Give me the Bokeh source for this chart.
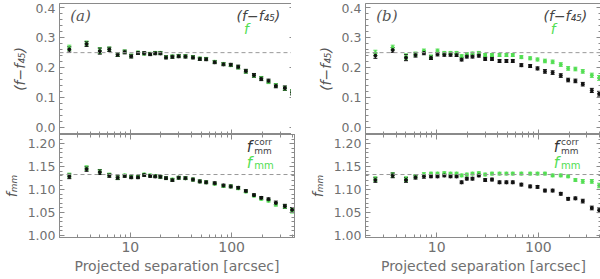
from bokeh.plotting import figure
from bokeh.layouts import gridplot
from bokeh.models import (Range1d, FixedTicker, Span, Label, Whisker, ColumnDataSource,
                          TeeHead, LinearAxis, LogAxis, NumeralTickFormatter)
from bokeh.embed import file_html
from bokeh.resources import INLINE

# ---------------- data ----------------
separation = [2.5, 3.7, 5.0, 6.2, 7.5, 8.8, 10.2, 11.9, 13.7, 15.7, 17.6, 19.8, 22.5, 26, 30,
              35, 41.5, 48.5, 56, 68, 83, 98, 116, 138, 166, 196, 231, 273, 335, 395]

a_frac_corr = [0.261, 0.279, 0.255, 0.261, 0.243, 0.252, 0.238, 0.249, 0.248, 0.245, 0.248, 0.248,
               0.234, 0.236, 0.238, 0.237, 0.234, 0.229, 0.228, 0.218, 0.211, 0.209, 0.202, 0.188,
               0.174, 0.162, 0.155, 0.138, 0.131, 0.116]
a_frac_raw = [0.266, 0.281, 0.257, 0.262, 0.243, 0.253, 0.239, 0.250, 0.247, 0.246, 0.249, 0.249,
              0.235, 0.237, 0.239, 0.238, 0.235, 0.230, 0.229, 0.219, 0.212, 0.208, 0.201, 0.187,
              0.173, 0.164, 0.152, 0.140, 0.130, 0.118]
a_fmm_corr = [1.129, 1.145, 1.138, 1.131, 1.126, 1.130, 1.127, 1.127, 1.132, 1.130, 1.129, 1.128,
              1.125, 1.121, 1.126, 1.125, 1.122, 1.118, 1.116, 1.114, 1.109, 1.107, 1.104, 1.097,
              1.088, 1.082, 1.079, 1.071, 1.064, 1.056]
a_fmm_raw = [1.131, 1.147, 1.139, 1.132, 1.126, 1.131, 1.128, 1.128, 1.133, 1.131, 1.130, 1.128,
             1.125, 1.122, 1.126, 1.125, 1.122, 1.118, 1.116, 1.113, 1.108, 1.107, 1.103, 1.096,
             1.087, 1.080, 1.076, 1.068, 1.063, 1.054]

b_frac_corr = [0.240, 0.259, 0.233, 0.242, 0.249, 0.233, 0.245, 0.243, 0.243, 0.242, 0.227, 0.237,
               0.237, 0.240, 0.229, 0.229, 0.222, 0.222, 0.222, 0.208, 0.205, 0.197, 0.187, 0.183,
               0.173, 0.158, 0.155, 0.144, 0.123, 0.112]
b_frac_raw = [0.249, 0.267, 0.236, 0.245, 0.256, 0.236, 0.256, 0.249, 0.249, 0.249, 0.238, 0.245,
              0.247, 0.249, 0.242, 0.242, 0.242, 0.242, 0.242, 0.235, 0.231, 0.227, 0.222, 0.219,
              0.210, 0.197, 0.195, 0.187, 0.174, 0.165]
b_fmm_corr = [1.121, 1.131, 1.121, 1.127, 1.129, 1.129, 1.129, 1.131, 1.129, 1.129, 1.116, 1.124,
              1.124, 1.131, 1.121, 1.122, 1.116, 1.116, 1.116, 1.111, 1.107, 1.106, 1.098, 1.098,
              1.091, 1.080, 1.081, 1.075, 1.060, 1.055]
b_fmm_raw = [1.123, 1.132, 1.123, 1.129, 1.133, 1.135, 1.135, 1.136, 1.135, 1.135, 1.131, 1.133,
             1.135, 1.136, 1.133, 1.135, 1.135, 1.135, 1.135, 1.135, 1.135, 1.135, 1.135, 1.131,
             1.131, 1.129, 1.121, 1.118, 1.118, 1.109]

frac_err = [0.009, 0.008, 0.010, 0.007, 0.006, 0.006, 0.006, 0.005, 0.005, 0.005, 0.005, 0.005,
            0.005, 0.005, 0.005, 0.005, 0.005, 0.005, 0.005, 0.005, 0.005, 0.005, 0.006, 0.006,
            0.006, 0.006, 0.006, 0.006, 0.007, 0.008]
fmm_err = [0.005, 0.005, 0.005, 0.004, 0.004, 0.003, 0.003, 0.003, 0.003, 0.003, 0.003, 0.003,
           0.003, 0.003, 0.003, 0.003, 0.003, 0.003, 0.003, 0.003, 0.003, 0.003, 0.003, 0.003,
           0.003, 0.003, 0.003, 0.004, 0.004, 0.005]

frac_ref = 0.25
fmm_ref = 1.133

frac_ticks = [0.0, 0.1, 0.2, 0.3, 0.4]
frac_minor = [round(i * 0.02, 2) for i in range(0, 21)]
fmm_ticks = [1.00, 1.05, 1.10, 1.15, 1.20]
fmm_minor = [round(1.0 + i * 0.01, 2) for i in range(0, 23)]
x_ticks = [10, 100]
x_minor = [2, 3, 4, 5, 6, 7, 8, 9, 20, 30, 40, 50, 60, 70, 80, 90, 200, 300, 400]

BLACK = "#111111"
GREEN = "#52de52"
AXC = "#8a8a8a"
TXT = "#707070"
FONT = "DejaVu Sans"


def style_axis(ax, ticker, show_labels, fmt=None, size="12.5px"):
    ax.ticker = ticker
    ax.axis_line_color = AXC
    ax.major_tick_line_color = AXC
    ax.minor_tick_line_color = AXC
    ax.major_tick_in = 5
    ax.major_tick_out = 0
    ax.minor_tick_in = 3
    ax.minor_tick_out = 0
    ax.major_label_text_color = TXT
    ax.major_label_text_font = FONT
    if show_labels:
        ax.major_label_text_font_size = size
        ax.major_label_standoff = 4
    else:
        ax.major_label_text_font_size = "1px"
        ax.major_label_text_alpha = 0
        ax.major_label_standoff = 0
    if fmt is not None:
        ax.formatter = fmt


def panel(y, yerr, y2, yerr2, yr, ticks, minor, fmt, ref, top, left_col, ylabel, tag=None):
    p = figure(x_axis_type="log", x_range=Range1d(2.0, 417), y_range=Range1d(*yr),
               frame_width=235 if left_col else 236, frame_height=131 if top else 103,
               output_backend="svg", toolbar_location=None,
               min_border_left=55 if left_col else 70, min_border_right=1 if left_col else 2,
               min_border_top=3 if top else 0, min_border_bottom=0 if top else 42)
    p.grid.visible = False
    p.outline_line_color = AXC
    p.background_fill_color = "white"
    p.border_fill_color = "white"

    xt = FixedTicker(ticks=x_ticks, minor_ticks=x_minor)
    yt = FixedTicker(ticks=ticks, minor_ticks=minor)
    style_axis(p.xaxis[0], xt, not top, NumeralTickFormatter(format="0"), "14px")
    style_axis(p.yaxis[0], yt, True, fmt)
    p.yaxis[0].axis_label = ylabel
    p.yaxis[0].axis_label_text_font = FONT
    p.yaxis[0].axis_label_text_font_style = "italic"
    p.yaxis[0].axis_label_text_font_size = "14px"
    p.yaxis[0].axis_label_text_color = "#555555"
    p.yaxis[0].axis_label_standoff = 5
    if not top:
        p.xaxis[0].axis_label = "Projected separation [arcsec]"
        p.xaxis[0].axis_label_text_font = FONT
        p.xaxis[0].axis_label_text_font_style = "normal"
        p.xaxis[0].axis_label_text_font_size = "14px"
        p.xaxis[0].axis_label_text_color = TXT
        p.xaxis[0].axis_label_standoff = 3

    ra = LinearAxis()
    style_axis(ra, FixedTicker(ticks=ticks, minor_ticks=minor), False)
    p.add_layout(ra, "right")
    if not top:
        ta = LogAxis()
        style_axis(ta, FixedTicker(ticks=x_ticks, minor_ticks=x_minor), False)
        p.add_layout(ta, "above")

    p.add_layout(Span(location=ref, dimension="width", line_color="#999999",
                      line_dash="4 3", line_width=1))

    for vals, errs, col in ((y2, yerr2, GREEN), (y, yerr, BLACK)):
        lo = [v - e for v, e in zip(vals, errs)]
        hi = [v + e for v, e in zip(vals, errs)]
        src = ColumnDataSource(dict(x=separation, y=vals, lo=lo, hi=hi))
        p.add_layout(Whisker(source=src, base="x", lower="lo", upper="hi",
                             line_color=col, line_width=1,
                             lower_head=TeeHead(size=4, line_color=col, line_width=1),
                             upper_head=TeeHead(size=4, line_color=col, line_width=1)))
        p.scatter("x", "y", source=src, size=3, color=col, marker="circle")

    if top:
        p.add_layout(Label(x=2.55, y=0.372, text=tag, text_font="DejaVu Serif",
                           text_font_style="italic", text_font_size="15px",
                           text_color="#555555", text_baseline="middle"))
        p.add_layout(Label(x=302, y=0.372, text="(f\u2212f\u2084\u2085)", text_font=FONT,
                           text_font_style="italic", text_font_size="14px",
                           text_color="#444444", text_align="right", text_baseline="middle"))
        p.add_layout(Label(x=140, y=0.331, text="f", text_font=FONT,
                           text_font_style="italic", text_font_size="14px",
                           text_color=GREEN, text_align="center", text_baseline="middle"))
    else:
        p.add_layout(Label(x=150, y=1.192, text="f", text_font=FONT,
                           text_font_style="italic", text_font_size="15px",
                           text_color="#333333", text_align="center", text_baseline="middle"))
        p.add_layout(Label(x=167, y=1.204, text="corr", text_font=FONT,
                           text_font_size="9px", text_color="#444444",
                           text_align="left", text_baseline="middle"))
        p.add_layout(Label(x=167, y=1.184, text="mm", text_font=FONT,
                           text_font_size="9px", text_color="#444444",
                           text_align="left", text_baseline="middle"))
        p.add_layout(Label(x=150, y=1.158, text="f", text_font=FONT,
                           text_font_style="italic", text_font_size="15px",
                           text_color=GREEN, text_align="center", text_baseline="middle"))
        p.add_layout(Label(x=167, y=1.152, text="mm", text_font=FONT,
                           text_font_size="10px", text_color=GREEN,
                           text_align="left", text_baseline="middle"))
    return p


frac_fmt = NumeralTickFormatter(format="0.0")
fmm_fmt = NumeralTickFormatter(format="0.00")
frac_label = "(f\u2212f\u2084\u2085)"
fmm_label = "f\u2098\u2098"
frac_range = (-0.025, 0.4151)
fmm_range = (0.9956, 1.2203)

pa1 = panel(a_frac_corr, frac_err, a_frac_raw, frac_err, frac_range, frac_ticks, frac_minor,
            frac_fmt, frac_ref, True, True, frac_label, "(a)")
pa2 = panel(a_fmm_corr, fmm_err, a_fmm_raw, fmm_err, fmm_range, fmm_ticks, fmm_minor,
            fmm_fmt, fmm_ref, False, True, fmm_label)
pb1 = panel(b_frac_corr, frac_err, b_frac_raw, frac_err, frac_range, frac_ticks, frac_minor,
            frac_fmt, frac_ref, True, False, frac_label, "(b)")
pb2 = panel(b_fmm_corr, fmm_err, b_fmm_raw, fmm_err, fmm_range, fmm_ticks, fmm_minor,
            fmm_fmt, fmm_ref, False, False, fmm_label)

grid = gridplot([[pa1, pb1], [pa2, pb2]], toolbar_location=None)

with open("out.html", "w") as f:
    f.write(file_html(grid, INLINE))
